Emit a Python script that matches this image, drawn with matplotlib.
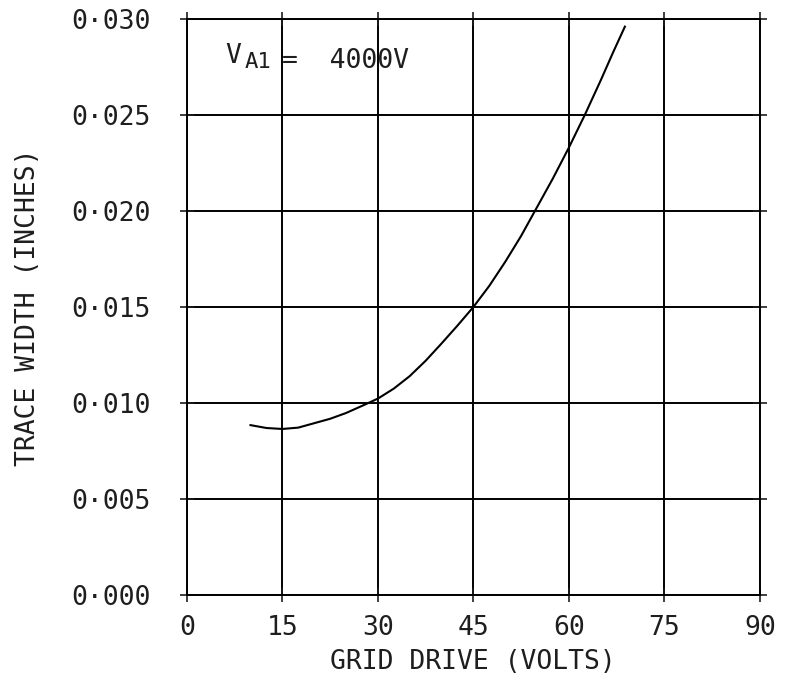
import matplotlib.pyplot as plt

# values
grid_drive = [10, 12.5, 15, 17.5, 20, 22.5, 25, 27.5, 30, 32.5, 35, 37.5, 40, 42.5, 45,
              47.5, 50, 52.5, 55, 57.5, 60, 62.5, 65, 67, 68.8]
trace_width = [0.00885, 0.00870, 0.00865, 0.00872, 0.00895, 0.00918, 0.00948, 0.00985, 0.01023,
               0.01075, 0.01140, 0.01220, 0.01310, 0.01403, 0.01500,
               0.01610, 0.01735, 0.01870, 0.02020, 0.02170, 0.02330, 0.02500, 0.02680, 0.02830, 0.02960]

x_ticks = [0, 15, 30, 45, 60, 75, 90]
y_ticks = [0.000, 0.005, 0.010, 0.015, 0.020, 0.025, 0.030]
y_labels = ['0\u00b7000', '0\u00b7005', '0\u00b7010', '0\u00b7015', '0\u00b7020', '0\u00b7025', '0\u00b7030']

plt.rcParams['font.family'] = 'DejaVu Sans Mono'
INK = '#1e1e1e'


def make_plot():
    fig = plt.figure(figsize=(7.85, 6.77), dpi=100)
    ax = fig.add_axes([0.238, 0.121, 0.730, 0.851])

    ax.plot(grid_drive, trace_width, color='black', linewidth=1.5)

    ax.set_xlim(0, 90)
    ax.set_ylim(0, 0.030)
    ax.set_xticks(x_ticks)
    ax.set_yticks(y_ticks)
    ax.set_yticklabels(y_labels)

    ax.grid(True, color='black', linewidth=1.4)
    for sp in ax.spines.values():
        sp.set_color('black')
        sp.set_linewidth(1.4)

    ax.tick_params(direction='inout', length=10, width=1.2, top=True, right=True,
                   labelsize=19, colors=INK)
    ax.tick_params(axis='y', pad=21)
    ax.tick_params(axis='x', pad=9)

    ax.set_xlabel('GRID DRIVE (VOLTS)', fontsize=19, color=INK, labelpad=6)
    ax.set_ylabel('TRACE WIDTH (INCHES)', fontsize=19, color=INK, labelpad=22)

    ax.text(5.97, 0.02771, 'V', fontsize=19, color=INK, va='baseline', ha='left')
    ax.text(9.1, 0.02745, 'A1', fontsize=16, color=INK, va='baseline', ha='left')
    ax.text(15.0, 0.02745, '=  4000V', fontsize=19, color=INK, va='baseline', ha='left')

    fig.savefig('out.png', dpi=100, facecolor='white')
    plt.close(fig)


if __name__ == "__main__":
    make_plot()
